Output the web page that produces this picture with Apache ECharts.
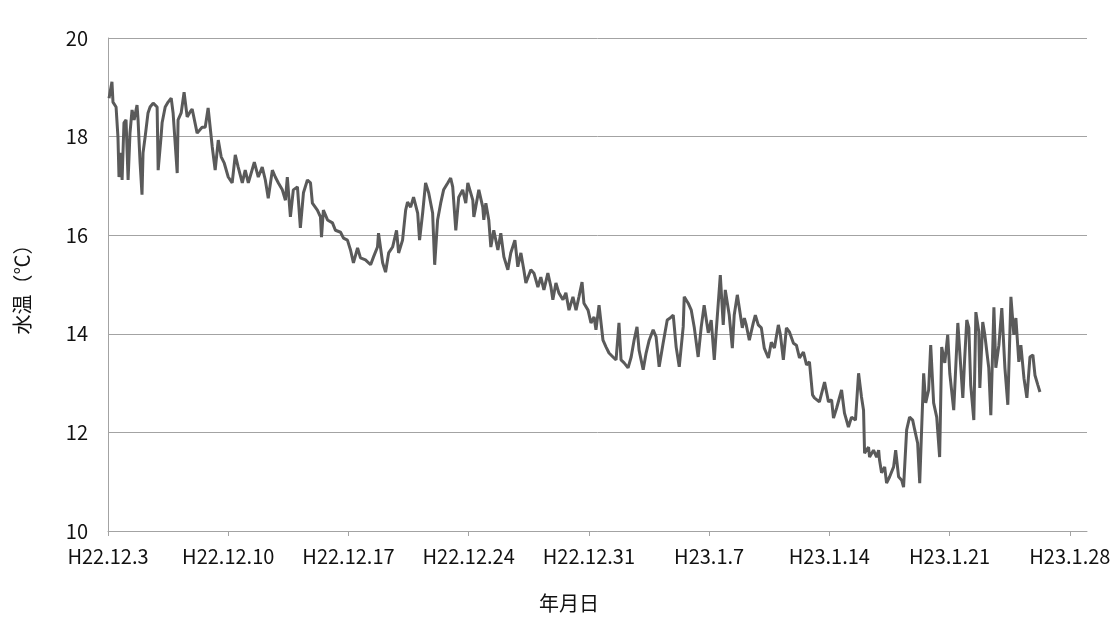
<!DOCTYPE html>
<html>
<head>
<meta charset="utf-8">
<title>水温</title>
<script src="https://cdn.jsdelivr.net/npm/echarts@6/dist/echarts.min.js"></script>
<style>
  html, body { margin: 0; padding: 0; background: #fff; }
  #chart { width: 1119px; height: 618px; }
</style>
</head>
<body>
<div id="chart"></div>
<script>
// days since H22.12.3 (2010-12-03)
var days = [
  0.06, 0.23, 0.29, 0.47, 0.58, 0.64, 0.76, 0.82, 0.93, 1.05, 1.17, 1.28, 1.40, 1.52, 1.69, 1.75, 1.87,
  1.98, 2.04, 2.16, 2.33, 2.45, 2.63, 2.86, 2.92, 3.09, 3.15,
  3.33, 3.50, 3.68, 3.79, 4.03, 4.08, 4.26, 4.43, 4.61, 4.78, 4.90, 5.19, 5.48, 5.66, 5.83, 6.07,
  6.24, 6.42, 6.59, 6.77,
  7.00, 7.23, 7.41, 7.58, 7.82, 7.99, 8.17, 8.52, 8.75, 8.98, 9.16, 9.33, 9.57, 9.74, 9.92, 10.15, 10.33,
  10.44, 10.62, 10.79, 11.03, 11.20, 11.38, 11.61, 11.79, 11.90, 12.19, 12.37, 12.43, 12.54, 12.78, 13.07,
  13.24, 13.54, 13.71, 13.94, 14.12, 14.29,
  14.53, 14.70, 14.99, 15.29, 15.46, 15.69, 15.75, 15.99, 16.16, 16.34, 16.57, 16.80, 16.92, 17.15, 17.33,
  17.44, 17.62, 17.79, 18.03, 18.14, 18.32, 18.49, 18.67, 18.90, 19.02, 19.19, 19.37, 19.54, 19.78, 19.95,
  20.07, 20.25, 20.42, 20.65, 20.83, 20.95, 21.24, 21.30,
  21.41, 21.59, 21.82, 21.88, 22.00, 22.17, 22.29, 22.46, 22.70, 22.87, 23.05, 23.28, 23.45, 23.69, 23.86,
  24.04, 24.21, 24.33, 24.62, 24.80, 25.03, 25.20, 25.38, 25.61, 25.79, 25.90, 26.08, 26.25, 26.49, 26.66,
  26.84, 27.07, 27.25, 27.42, 27.60, 27.71, 27.95, 28.12, 28.30,
  28.41, 28.59, 28.82, 29.00, 29.17, 29.40, 29.58, 29.75, 29.87, 30.05, 30.28, 30.46, 30.63, 30.80, 30.92,
  31.16, 31.33, 31.51, 31.74, 31.91, 32.09, 32.32, 32.56, 32.73, 32.91, 33.08, 33.26, 33.49, 33.55, 33.78,
  33.96, 34.13, 34.36, 34.54, 34.71, 34.95, 35.12, 35.30,
  35.41, 35.65, 35.82, 35.94, 36.05, 36.17, 36.35, 36.46, 36.64, 36.76, 36.93, 37.05, 37.16, 37.34, 37.57,
  37.69, 37.86, 38.04, 38.21, 38.45, 38.62, 38.80, 39.03, 39.15, 39.32, 39.50, 39.67, 39.91, 40.08, 40.26,
  40.49, 40.67, 40.84, 41.02, 41.13, 41.42, 41.72, 41.95, 42.13, 42.24, 42.42,
  42.71, 42.88, 43.11, 43.29, 43.52, 43.70, 43.87, 43.99, 44.05, 44.28, 44.34, 44.57, 44.75, 44.87, 44.92,
  45.04, 45.22, 45.33, 45.51, 45.74, 45.86, 46.03, 46.21, 46.32, 46.50, 46.67, 46.85, 46.97, 47.14, 47.26,
  47.37, 47.49, 47.61, 47.78, 47.90, 48.07, 48.25, 48.42, 48.54, 48.72, 48.89, 49.01, 49.24,
  49.48, 49.59, 49.77, 49.88, 50.00, 50.12, 50.23, 50.41, 50.53, 50.70, 50.76, 50.93, 51.05, 51.28, 51.40,
  51.58, 51.69, 51.87, 52.04, 52.22, 52.39, 52.57, 52.74, 52.86, 53.03, 53.15, 53.33, 53.50, 53.68, 53.85,
  53.97, 54.14, 54.26
];

// water temperature (℃)
var temps = [
  18.78, 19.11, 18.70, 18.60, 17.99, 17.18, 17.67, 17.12, 18.28, 18.34, 17.12, 18.07, 18.54, 18.34, 18.64, 18.34, 17.46,
  16.82, 17.67, 17.99, 18.48, 18.60, 18.68, 18.60, 17.32, 18.00, 18.28,
  18.60, 18.70, 18.78, 18.48, 17.26, 18.34, 18.48, 18.90, 18.40, 18.50, 18.56, 18.07, 18.19, 18.19, 18.58, 17.79,
  17.32, 17.93, 17.59, 17.46,
  17.18, 17.06, 17.63, 17.38, 17.06, 17.32, 17.06, 17.48, 17.18, 17.38, 17.12, 16.75, 17.32, 17.18, 17.06, 16.92, 16.71,
  17.18, 16.37, 16.92, 16.98, 16.15, 16.86, 17.12, 17.06, 16.65, 16.51, 16.37, 15.96, 16.51, 16.31, 16.25,
  16.10, 16.06, 15.94, 15.90, 15.70, 15.44,
  15.74, 15.54, 15.50, 15.40, 15.56, 15.76, 16.04, 15.44, 15.25, 15.64, 15.76, 16.10, 15.64, 15.90, 16.51,
  16.67, 16.57, 16.77, 16.45, 15.90, 16.45, 17.06, 16.86, 16.45, 15.40, 16.31, 16.65, 16.92, 17.06, 17.16,
  16.98, 16.10, 16.77, 16.92, 16.65, 17.06, 16.71, 16.37,
  16.57, 16.92, 16.57, 16.31, 16.65, 16.31, 15.76, 16.10, 15.70, 16.04, 15.56, 15.30, 15.64, 15.90, 15.36,
  15.64, 15.30, 15.03, 15.30, 15.23, 14.95, 15.15, 14.89, 15.23, 14.95, 14.69, 15.03, 14.83, 14.69, 14.83,
  14.48, 14.75, 14.48, 14.75, 15.05, 14.62, 14.48, 14.22, 14.34,
  14.08, 14.58, 13.87, 13.73, 13.61, 13.53, 13.47, 14.22, 13.47, 13.41, 13.31, 13.53, 13.87, 14.14, 13.67,
  13.27, 13.61, 13.87, 14.08, 13.94, 13.33, 13.81, 14.28, 14.32, 14.38, 13.73, 13.33, 14.14, 14.75, 14.62,
  14.48, 14.14, 13.53, 14.14, 14.58, 14.02, 14.28, 13.47,
  14.04, 15.19, 14.18, 14.89, 14.85, 14.38, 13.71, 14.38, 14.79, 14.52, 14.12, 14.32, 14.18, 13.87, 14.22,
  14.38, 14.18, 14.12, 13.71, 13.51, 13.83, 13.71, 14.18, 13.98, 13.47, 14.12, 14.04, 13.81, 13.77, 13.51,
  13.63, 13.37, 13.43, 12.76, 12.70, 12.62, 13.02, 12.62, 12.66, 12.29, 12.49,
  12.86, 12.39, 12.11, 12.31, 12.25, 13.20, 12.72, 12.45, 11.58, 11.70, 11.50, 11.64, 11.50, 11.64, 11.44,
  11.18, 11.30, 10.97, 11.10, 11.30, 11.64, 11.10, 11.03, 10.89, 12.05, 12.31, 12.25, 12.05, 11.78, 10.97,
  12.05, 13.20, 12.60, 12.86, 13.77, 12.60, 12.31, 11.50, 13.73, 13.41, 13.98, 13.20, 12.45,
  14.22, 14.24, 12.70, 13.51, 14.28, 14.12, 12.96, 12.25, 14.44, 14.04, 12.90, 14.24, 13.98, 13.31, 12.35,
  14.54, 13.31, 13.77, 14.52, 13.31, 12.56, 14.75, 13.98, 14.32, 13.43, 13.77, 13.10, 12.70, 13.53, 13.57,
  13.16, 12.96, 12.82
];

// weekly ticks on the date axis
var tickDays = [0, 7, 14, 21, 28, 35, 42, 49, 56];
var yTicks = [10, 12, 14, 16, 18, 20];

function dayLabel(d) {
  var dt = new Date(2010, 11, 3 + Math.round(d));
  return 'H' + (dt.getFullYear() - 1988) + '.' + (dt.getMonth() + 1) + '.' + dt.getDate();
}

var points = [];
for (var i = 0; i < days.length; i++) {
  points.push([days[i], temps[i]]);
}

var font = '"Noto Sans CJK JP", "Noto Sans", sans-serif';
var gridColor = '#a3a3a3';

var chart = echarts.init(document.getElementById('chart'));
chart.setOption({
  animation: false,
  textStyle: { fontFamily: font },
  grid: { left: 108, right: 32, top: 38, bottom: 87, containLabel: false },
  xAxis: {
    type: 'value',
    min: 0,
    max: 57,
    interval: 7,
    axisLine: { show: true, lineStyle: { color: gridColor, width: 1 } },
    axisTick: { show: true, length: 5, lineStyle: { color: gridColor }, customValues: tickDays },
    axisLabel: {
      customValues: tickDays,
      formatter: function (v) { return dayLabel(v); },
      color: '#111',
      fontSize: 20,
      margin: 15,
      fontFamily: font
    },
    splitLine: { show: false }
  },
  yAxis: {
    type: 'value',
    min: yTicks[0],
    max: yTicks[yTicks.length - 1],
    interval: 2,
    name: '水温（℃）',
    nameLocation: 'middle',
    nameRotate: 90,
    nameGap: 76,
    nameTextStyle: { color: '#111', fontSize: 20, fontFamily: font },
    axisLine: { show: true, lineStyle: { color: gridColor, width: 1 } },
    axisTick: { show: false },
    axisLabel: { color: '#111', fontSize: 20, margin: 20, fontFamily: font },
    splitLine: { show: true, lineStyle: { color: gridColor, width: 1 } }
  },
  graphic: [{
    type: 'text',
    left: 539,
    top: 593,
    style: { text: '年月日', fill: '#111', fontSize: 20, fontFamily: font }
  }],
  series: [{
    type: 'line',
    data: points,
    showSymbol: false,
    lineStyle: { color: '#5a5a5a', width: 3 },
    itemStyle: { color: '#5a5a5a' }
  }]
});
</script>
</body>
</html>
